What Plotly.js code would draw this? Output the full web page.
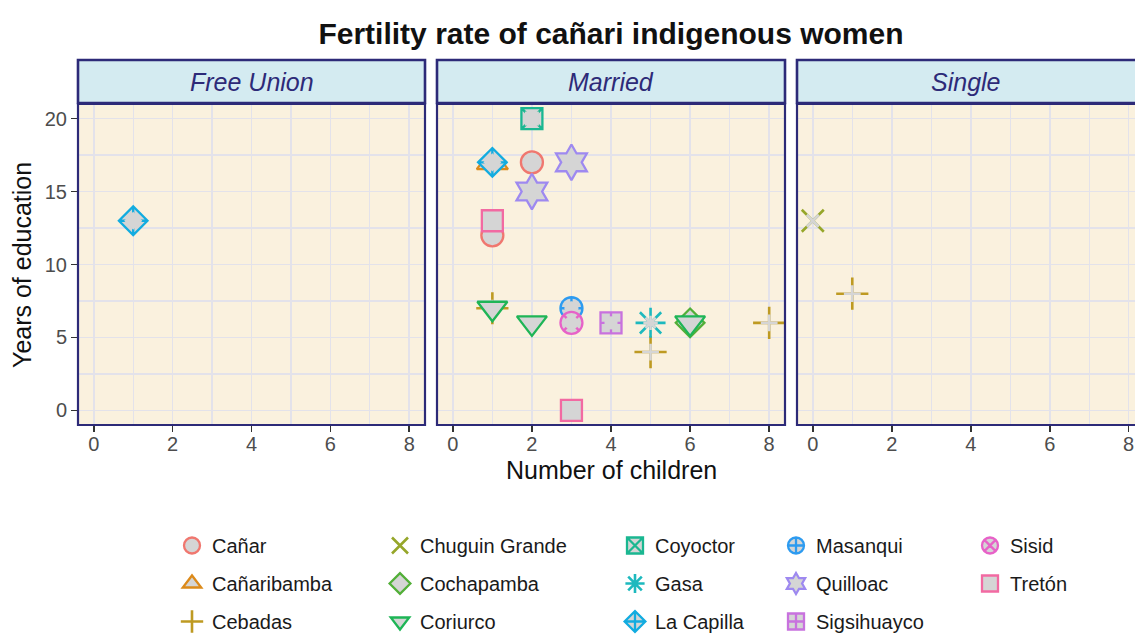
<!DOCTYPE html>
<html><head><meta charset="utf-8">
<script src="https://cdn.plot.ly/plotly-3.0.1.min.js"></script>
<style>html,body{margin:0;padding:0;background:#fff}#chart{width:1135px;height:635px}</style>
</head><body><div id="chart"></div>
<script>
// ---- data ----
const communities = ['Cañar','Cañaribamba','Cebadas','Chuguin Grande','Cochapamba','Coriurco','Coyoctor','Gasa','La Capilla','Masanqui','Quilloac','Sigsihuayco','Sisid','Tretón'];
const panels = ['Free Union','Married','Single'];
const pointStatus    = ['Free Union','Married','Married','Married','Married','Married','Married','Married','Married','Married','Married','Married','Married','Married','Married','Married','Married','Married','Married','Married','Married','Single','Single'];
const pointCommunity = ['La Capilla','Coyoctor','Cañaribamba','La Capilla','Cañar','Quilloac','Quilloac','Tretón','Cañar','Cebadas','Coriurco','Coriurco','Masanqui','Sisid','Sigsihuayco','Gasa','Cebadas','Cochapamba','Coriurco','Cebadas','Tretón','Chuguin Grande','Cebadas'];
const pointChildren  = [1, 2, 1, 1, 2, 3, 2, 1, 1, 1, 1, 2, 3, 3, 4, 5, 5, 6, 6, 8, 3, 0, 1];
const pointEducation = [13, 20, 17, 17, 17, 17, 15, 13, 12, 7, 7, 6, 7, 6, 6, 6, 4, 6, 6, 6, 0, 13, 8];
const xTickVals = [0, 2, 4, 6, 8];
const yTickVals = [0, 5, 10, 15, 20];
const chartTitle = 'Fertility rate of cañari indigenous women';
const xTitle = 'Number of children';
const yTitle = 'Years of education';

// ---- style ----
const FONT = 'Liberation Sans, Arial, Helvetica, sans-serif';
const NAVY = '#2d2a78';
const GREY = '#d5d5d5';
const colors = ['#F0776F','#DC8A1A','#BE9A22','#96A62A','#52AF38','#1EB556','#1AB791','#1DB9BE','#12ACE0','#2D9BF0','#9E89F0','#C872DE','#E762C8','#F26AA2'];
const style = {
  'Cañar':          {sym:'circle',          size:22},
  'Cañaribamba':    {sym:'triangle-up',     size:27},
  'Cebadas':        {sym:'cross-thin-open', size:23, ov:'cross-thin-open', ovs:12},
  'Chuguin Grande': {sym:'x-thin-open',     size:22, ov:'x-thin-open', ovs:12},
  'Cochapamba':     {sym:'diamond',         size:22},
  'Coriurco':       {sym:'triangle-down',   size:26},
  'Coyoctor':       {sym:'square-x',        size:21, ov:'square', ovs:14},
  'Gasa':           {sym:'asterisk-open',   size:25, ov:'asterisk-open', ovs:12},
  'La Capilla':     {sym:'diamond-cross',   size:22, ov:'diamond', ovs:14},
  'Masanqui':       {sym:'circle-cross',    size:22, ov:'circle', ovs:14},
  'Quilloac':       {sym:'hexagram',        size:27},
  'Sigsihuayco':    {sym:'square-cross',    size:21, ov:'square', ovs:13},
  'Sisid':          {sym:'circle-x',        size:22, ov:'circle', ovs:14},
  'Tretón':         {sym:'square',          size:21}
};
const legendNames = ['legend','legend2','legend3','legend4','legend5'];
const axisSuffix = ['', '2', '3'];

const traces = [];
communities.forEach((c, ci) => {
  const st = style[c];
  const col = colors[ci];
  const open = st.sym.endsWith('-open');
  let first = true;
  panels.forEach((p, pi) => {
    const xs = [], ys = [];
    pointStatus.forEach((s, k) => {
      if (s === p && pointCommunity[k] === c) { xs.push(pointChildren[k]); ys.push(pointEducation[k]); }
    });
    if (!xs.length) return;
    traces.push({
      type:'scatter', mode:'markers', x:xs, y:ys, name:c,
      xaxis:'x' + axisSuffix[pi], yaxis:'y' + axisSuffix[pi],
      legend: legendNames[Math.floor(ci / 3)], legendgroup:c, showlegend:first,
      marker: open ? {symbol:st.sym, size:st.size, color:col, line:{color:col, width:2.6}}
                   : {symbol:st.sym, size:st.size, color:GREY, line:{color:col, width:2.3}},
      hoverinfo:'skip'
    });
    if (st.ov) {
      const oopen = st.ov.endsWith('-open');
      traces.push({
        type:'scatter', mode:'markers', x:xs, y:ys, name:c, showlegend:false,
        xaxis:'x' + axisSuffix[pi], yaxis:'y' + axisSuffix[pi], legendgroup:c,
        legend: legendNames[Math.floor(ci / 3)],
        marker: oopen ? {symbol:st.ov, size:st.ovs, color:GREY, line:{color:GREY, width:2.6}}
                      : {symbol:st.ov, size:st.ovs, color:GREY, line:{width:0}},
        hoverinfo:'skip'
      });
    }
    first = false;
  });
});

const W = 1135, H = 635;
const gridCol = '#e3e2ea';
function xax(domain, range) {
  return {domain:domain, range:range, tickvals:xTickVals, ticktext:xTickVals.map(String),
    showgrid:true, gridcolor:gridCol, gridwidth:1.6, zeroline:false,
    minor:{dtick:1, tick0:0, showgrid:true, gridcolor:gridCol, gridwidth:1.2, ticks:''},
    ticks:'outside', ticklen:6, tickwidth:1.6, tickcolor:'#333333', ticklabelstandoff:-5,
    tickfont:{size:20, color:'#4d4d4d', family:FONT}, showline:false, fixedrange:true, automargin:false};
}
function yax(anchor, labels) {
  return {domain:[0,1], range:[-1, 21], anchor:anchor, tickvals:yTickVals, ticktext:yTickVals.map(String),
    showgrid:true, gridcolor:gridCol, gridwidth:1.6, zeroline:false,
    minor:{dtick:2.5, tick0:0, showgrid:true, gridcolor:gridCol, gridwidth:1.2, ticks:''},
    ticks: labels ? 'outside' : '', ticklen:6, tickwidth:1.6, tickcolor:'#333333',
    showticklabels:labels, tickfont:{size:20, color:'#4d4d4d', family:FONT}, showline:false, fixedrange:true, automargin:false};
}
const L = 78, R = 0, T = 104, B = 210;
const pw = W - L - R;
const dom = (a, b) => [(a - L) / pw, (b - L) / pw];

const shapes = [], annotations = [];
const stripY0 = 1 + 1 / (H - T - B);
const stripY1 = 1 + (104 - 60) / (H - T - B);
panels.forEach((p, pi) => {
  const s = axisSuffix[pi];
  const x1 = pi === 2 ? 1.1 : 1;
  shapes.push({type:'rect', xref:'x' + s + ' domain', yref:'y' + s + ' domain', x0:0, x1:x1, y0:0, y1:1,
    line:{color:NAVY, width:2.2}, fillcolor:'rgba(0,0,0,0)', layer:'above'});
  shapes.push({type:'rect', xref:'x' + s + ' domain', yref:'y' + s + ' domain', x0:0, x1:x1, y0:stripY0, y1:stripY1,
    line:{color:NAVY, width:2.6}, fillcolor:'#d4ebf1', layer:'above'});
  annotations.push({xref:'x' + s + ' domain', yref:'y' + s + ' domain', x:0.5, y:(stripY0 + stripY1) / 2,
    text:p, showarrow:false, xanchor:'center', yanchor:'middle',
    font:{size:25, color:NAVY, family:FONT, style:'italic'}});
});
annotations.push({xref:'paper', yref:'paper', x:(611 - L) / pw, y:(H - B - 470) / (H - T - B),
  text:xTitle, showarrow:false, xanchor:'center', yanchor:'middle', font:{size:25, color:'#111', family:FONT}});
annotations.push({xref:'paper', yref:'paper', x:(22 - L) / pw, y:(H - B - 265) / (H - T - B),
  text:yTitle, showarrow:false, xanchor:'center', yanchor:'middle', textangle:-90, font:{size:25, color:'#111', family:FONT}});

const legendTextX = [212, 420, 655, 816, 1010];
const layout = {
  width:W, height:H, margin:{l:L, r:R, t:T, b:B, autoexpand:false},
  paper_bgcolor:'#ffffff', plot_bgcolor:'#faf1de',
  font:{family:FONT},
  title:{text:'<b>' + chartTitle + '</b>', x:611 / W, xref:'container', xanchor:'center',
    y:1 - 33 / H, yref:'container', yanchor:'middle', font:{size:30, color:'#111', family:FONT}},
  xaxis: Object.assign(xax(dom(78, 425), [-0.4, 8.4]), {anchor:'y'}),
  xaxis2: Object.assign(xax(dom(437, 785), [-0.4, 8.4]), {anchor:'y2'}),
  xaxis3: Object.assign(xax(dom(797, 1135), [-0.4, 8.16]), {anchor:'y3'}),
  yaxis: yax('x', true),
  yaxis2: yax('x2', false),
  yaxis3: yax('x3', false),
  shapes:shapes, annotations:annotations, hovermode:false
};
legendNames.forEach((ln, k) => {
  layout[ln] = {x:(legendTextX[k] - 40) / W, xref:'container', xanchor:'left',
    y:1 - 526 / H, yref:'container', yanchor:'top', orientation:'v',
    traceorder:'grouped', tracegroupgap:9, bgcolor:'rgba(0,0,0,0)',
    font:{size:20, color:'#1a1a1a', family:FONT}, itemsizing:'trace'};
});

Plotly.newPlot('chart', traces, layout, {displayModeBar:false, staticPlot:true});
</script>
</body></html>
